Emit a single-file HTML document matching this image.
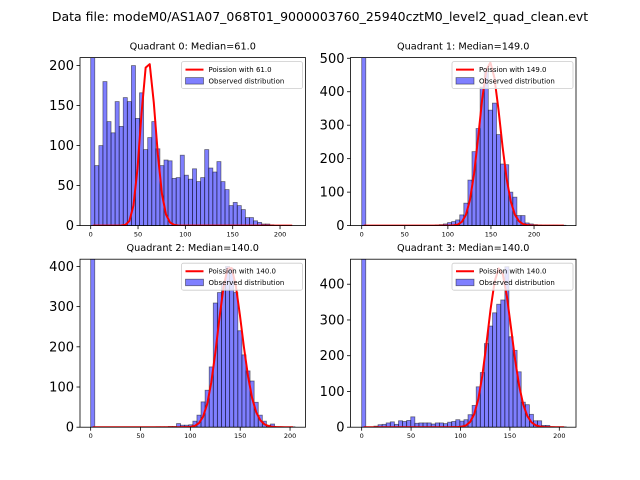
<!DOCTYPE html>
<html><head><meta charset="utf-8"><style>
body{margin:0;background:#fff}
svg{display:block;font-family:"DejaVu Sans","Liberation Sans",sans-serif}
</style></head><body>
<svg id="fig" width="640" height="480" viewBox="0 0 640 480">
<rect x="0" y="0" width="640" height="480" fill="#fff"/>
<text x="320" y="21" font-size="12.5" text-anchor="middle">Data file: modeM0/AS1A07_068T01_9000003760_25940cztM0_level2_quad_clean.evt</text>
</svg>
<script>
// ---- data ----
const quadrantTitles = ["Quadrant 0: Median=61.0","Quadrant 1: Median=149.0","Quadrant 2: Median=140.0","Quadrant 3: Median=140.0"];
const medians = [61.0, 149.0, 140.0, 140.0];
const binMax = [215, 237, 205, 207];
const poissonAmp = [4060, 14950, 11900, 13200];
const counts0 = [260,75,100,180,130,116,155,124,160,155,200,134,166,95,110,130,96,75,82,81,59,60,88,63,58,71,55,60,95,72,67,80,55,45,25,29,25,20,10,10,6,4,2,2,1,0,0,0,0,0];
const counts1 = [600,0,0,0,0,0,0,0,0,0,0,0,0,0,0,0,0,0,2,3,5,9,12,17,32,67,136,221,290,414,460,345,366,272,184,182,100,85,30,30,8,5,3,2,1,1,1,1,0,1];
const counts2 = [500,0,0,0,0,0,0,0,0,0,0,0,0,0,0,0,1,1,1,2,2,9,5,5,6,15,30,63,92,150,309,335,360,400,395,335,240,180,140,115,62,30,15,5,8,1,0,0,0,1];
const counts3 = [560,0,0,3,7,8,12,15,8,18,16,19,29,11,12,12,12,9,12,12,10,14,16,21,17,21,35,61,113,153,234,283,320,344,356,449,253,215,155,70,63,36,18,18,5,5,1,1,1,1];
const allCounts = [counts0, counts1, counts2, counts3];
const yTicks = [[0,50,100,150,200],[0,100,200,300,400,500],[0,100,200,300,400],[0,100,200,300,400]];
const xTicks = [0,50,100,150,200];
// ---- layout ----
const panels = [
 {x0:80, y0:57.6, xmin:-11.3, xmax:226.9, ymax:210},
 {x0:350.5, y0:57.6, xmin:-13, xmax:248.7, ymax:502},
 {x0:80, y0:259.2, xmin:-10.7, xmax:215.5, ymax:418},
 {x0:350.5, y0:259.2, xmin:-11.3, xmax:216.9, ymax:470}
];
const W=225.5, H=168, NB=50;
const NS="http://www.w3.org/2000/svg";
const svg=document.getElementById('fig');
function mk(tag, attrs, parent){const e=document.createElementNS(NS,tag);for(const k in attrs)e.setAttribute(k,attrs[k]);(parent||svg).appendChild(e);return e;}
function lgamma1(x){ if(x<=0) return 0; return x*Math.log(x)-x+0.5*Math.log(2*Math.PI*x)+1/(12*x); }
function pmf(k,l){ return Math.exp(k*Math.log(l)-l-lgamma1(k)); }

panels.forEach((p,q)=>{
  const g=mk('g',{});
  
  
  const cp='clip'+q;
  const cl=mk('clipPath',{id:cp},g); mk('rect',{x:p.x0,y:p.y0,width:W,height:H},cl);
  const sx=v=>p.x0+(v-p.xmin)/(p.xmax-p.xmin)*W;
  const sy=v=>p.y0+H-v/p.ymax*H;
  const bw=binMax[q]/NB;
  const bars=mk('g',{'clip-path':'url(#'+cp+')'},g);
  allCounts[q].forEach((c,i)=>{
    if(c<=0) return;
    const x1=sx(i*bw), x2=sx((i+1)*bw);
    const r=mk('rect',{x:x1,y:sy(c),width:x2-x1,height:sy(0)-sy(c),fill:'rgba(0,0,255,0.5)',stroke:'rgba(0,0,0,0.5)','stroke-width':0.8},bars);
    
    
  });
  let d='';
  for(let i=0;i<NB;i++){const k=(i+0.5)*bw;const v=pmf(k,medians[q])*poissonAmp[q];d+=(i?'L':'M')+sx(k).toFixed(2)+','+sy(v).toFixed(2);}
  const ln=mk('path',{d:d,fill:'none',stroke:'#ff0000','stroke-width':2,'stroke-linejoin':'round'},bars);
  
  
  const fr=mk('rect',{x:p.x0,y:p.y0,width:W,height:H,fill:'none',stroke:'#000','stroke-width':0.8},g);
  
  
  yTicks[q].forEach(t=>{
    const y=sy(t);
    mk('line',{x1:p.x0-3.5,x2:p.x0,y1:y,y2:y,stroke:'#000','stroke-width':0.8},g);
    const tx=mk('text',{x:p.x0-6,y:y+4.5,'font-size':13,'text-anchor':'end'},g);
    tx.textContent=t;
    
    
  });
  xTicks.forEach(t=>{
    const x=sx(t);
    mk('line',{x1:x,x2:x,y1:p.y0+H,y2:p.y0+H+3.5,stroke:'#000','stroke-width':0.8},g);
    const tx=mk('text',{x:x,y:p.y0+H+11,'font-size':6.5,'text-anchor':'middle'},g);
    tx.textContent=t;
    
    
  });
  const ti=mk('text',{x:p.x0+W/2,y:p.y0-8,'font-size':9.7,'text-anchor':'middle'},g);
  ti.textContent=quadrantTitles[q];
  
  
  // legend
  const lg=mk('g',{},g);
  
  
  const lx=p.x0+W-124, ly=p.y0+4;
  mk('rect',{x:lx,y:ly,width:121,height:27,fill:'rgba(255,255,255,0.8)',stroke:'#ccc','stroke-width':0.8,rx:2},lg);
  mk('line',{x1:lx+4,x2:lx+22,y1:ly+8,y2:ly+8,stroke:'#ff0000','stroke-width':2},lg);
  mk('rect',{x:lx+4,y:ly+16,width:18,height:6.5,fill:'rgba(0,0,255,0.5)',stroke:'rgba(0,0,0,0.5)','stroke-width':0.8},lg);
  const t1=mk('text',{x:lx+27,y:ly+10.5,'font-size':7},lg); t1.textContent='Poission with '+medians[q].toFixed(1);
  const t2=mk('text',{x:lx+27,y:ly+22,'font-size':7},lg); t2.textContent='Observed distribution';
});
</script>
</body></html>
